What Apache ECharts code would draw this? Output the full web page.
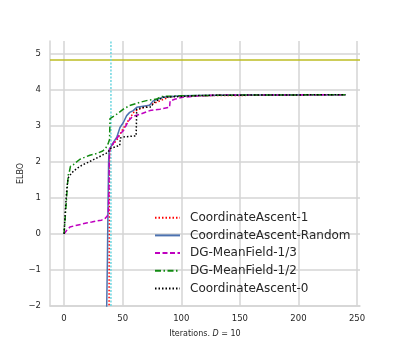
<!DOCTYPE html>
<html>
<head>
<meta charset="utf-8">
<script src="https://cdn.jsdelivr.net/npm/echarts@6/dist/echarts.min.js"></script>
<style>html,body{margin:0;padding:0;background:#fff}#c{width:400px;height:344px}</style>
</head>
<body>
<div id="c"></div>
<script>
// ---- data ----
const seriesNames = ['CoordinateAscent-1','CoordinateAscent-Random','DG-MeanField-1/3','DG-MeanField-1/2','CoordinateAscent-0'];
const ca1 = [[0,-300],[36,-20],[37.8,-6],[38.4,-2.2],[38.5,0],[38.7,2.0],[39,2.35],[40,2.42],[45,2.6],[50,2.9],[60,3.4],[75,3.6],[90,3.8],[100,3.83],[240,3.86]];
const caRandom = [[0,-300],[34,-20],[35.5,-6],[36.3,-2.2],[37,-0.7],[37.5,0.8],[38,2.0],[38.5,2.35],[40,2.42],[42,2.54],[45,2.68],[46.3,2.81],[47.7,2.95],[50.6,3.09],[53.4,3.28],[56,3.37],[59,3.42],[62,3.51],[73,3.57],[76,3.69],[84.6,3.79],[99,3.83],[150,3.85],[240,3.86]];
const dg13 = [[0,0],[2.3,0.1],[5,0.19],[6,0.22],[9.4,0.23],[15,0.27],[20,0.31],[23.6,0.33],[28,0.36],[32,0.38],[35,0.43],[37,0.5],[37.8,0.6],[38.3,1.2],[38.6,2.1],[39,2.35],[40.6,2.44],[43.5,2.58],[45,2.62],[47.7,2.77],[50.6,2.86],[52,2.95],[55,3.14],[57.7,3.23],[60,3.27],[64.8,3.32],[73.3,3.42],[81.8,3.46],[90,3.51],[90.5,3.69],[95,3.74],[101,3.79],[116,3.83],[133,3.85],[240,3.86]];
const dg12 = [[0,0],[1.5,0.7],[3,1.4],[3.7,1.66],[4.5,1.72],[5.5,1.88],[8,1.92],[10,1.98],[13.6,2.07],[18,2.13],[22,2.18],[28,2.23],[33,2.3],[35,2.36],[37,2.45],[38,2.54],[38.8,2.62],[39.2,3.2],[40,3.25],[45,3.32],[50.6,3.46],[56,3.56],[64.8,3.65],[72,3.71],[79,3.74],[83,3.81],[99,3.83],[150,3.85],[240,3.86]];
const ca0 = [[0,0],[1,0.6],[2,1.1],[3,1.45],[3.7,1.56],[5,1.63],[8,1.74],[12,1.84],[16,1.92],[21,1.99],[25,2.06],[29,2.12],[33,2.19],[37.5,2.26],[38.5,2.3],[39,2.36],[40,2.4],[45,2.43],[47.5,2.45],[48,2.66],[51,2.69],[55,2.7],[61.5,2.72],[62,3.46],[66,3.5],[74.5,3.52],[76,3.62],[79,3.69],[84.7,3.79],[99,3.81],[116,3.84],[160,3.85],[240,3.86]];
const trueElbo = 4.82;
const markIteration = 40;
const xTicks = [0,50,100,150,200,250];
const yTicks = [-2,-1,0,1,2,3,4,5];
const xRange = [-12, 252.5];
const yRange = [-2, 5.35];

const colors = ['#ff0000','#4c72b0','#bf00bf','#118a11','#000000'];
const dashes = [[1.5,2],'solid',[5,2.5],[6,2.5,1.5,2.5],[1.5,2]];
const allData = [ca1, caRandom, dg13, dg12, ca0];

const chart = echarts.init(document.getElementById('c'), null, {renderer:'canvas'});
const gridColor = '#d5d5d5';
const font = 'DejaVu Sans';
const series = [
  {type:'line', name:'_h', data:[[xRange[0],trueElbo],[xRange[1],trueElbo]], symbol:'none', silent:true,
   lineStyle:{color:'#bcbd22', width:1.5}, z:1},
  {type:'line', name:'_v', data:[[markIteration,yRange[0]],[markIteration,yRange[1]]], symbol:'none', silent:true,
   lineStyle:{color:'#6dd6e0', width:1.5, type:[2,1.5]}, z:1}
];
seriesNames.forEach((n,i)=>{
  series.push({type:'line', name:n, data:allData[i], symbol:'none', clip:true,
    lineStyle:{color:colors[i], width:1.5, type:dashes[i]}, itemStyle:{color:colors[i]}, z:2+i});
});

chart.setOption({
  animation:false,
  textStyle:{fontFamily:font},
  grid:{left:50, right:400-360, top:41, bottom:344-306, containLabel:false},
  xAxis:{type:'value', min:xRange[0], max:xRange[1], splitNumber:5,
    name:'{a|Iterations. }{i|D}{a| = 10}', nameLocation:'middle', nameGap:24, nameMoveOverlap:false,
    nameTextStyle:{rich:{a:{fontSize:8, color:'#262626', fontFamily:font}, i:{fontSize:8, fontStyle:'italic', color:'#262626', fontFamily:font}}},
    axisLine:{show:true, onZero:false, lineStyle:{color:gridColor, width:1.5}},
    axisTick:{show:false},
    axisLabel:{fontSize:8.5, color:'#262626', margin:8, showMinLabel:false, showMaxLabel:false, fontFamily:font,
      formatter:v=> xTicks.includes(v)? String(v):''},
    splitLine:{show:true, showMinLine:false, showMaxLine:false, lineStyle:{color:gridColor, width:1.5}}
  },
  yAxis:{type:'value', min:yRange[0], max:yRange[1], interval:1,
    name:'ELBO', nameLocation:'middle', nameGap:25, nameRotate:90, nameMoveOverlap:false,
    nameTextStyle:{fontSize:8, color:'#262626', fontFamily:font},
    axisLine:{show:true, onZero:false, lineStyle:{color:gridColor, width:1.5}},
    axisTick:{show:false},
    axisLabel:{fontSize:8.5, color:'#262626', margin:9, showMaxLabel:false, fontFamily:font,
      formatter:v=> yTicks.includes(v)? String(v).replace('-','\u2212'):''},
    splitLine:{show:true, showMaxLine:false, lineStyle:{color:gridColor, width:1.5}}
  },
  legend:{data:seriesNames, orient:'vertical', left:154, top:211.7, padding:0,
    itemWidth:25, itemHeight:14, itemGap:5.7,
    itemStyle:{color:'transparent', borderColor:'transparent', borderWidth:0},
    textStyle:{fontSize:12, color:'#262626', fontFamily:font, padding:[0,0,0,5]}},
  series:series
});
</script>
</body>
</html>
